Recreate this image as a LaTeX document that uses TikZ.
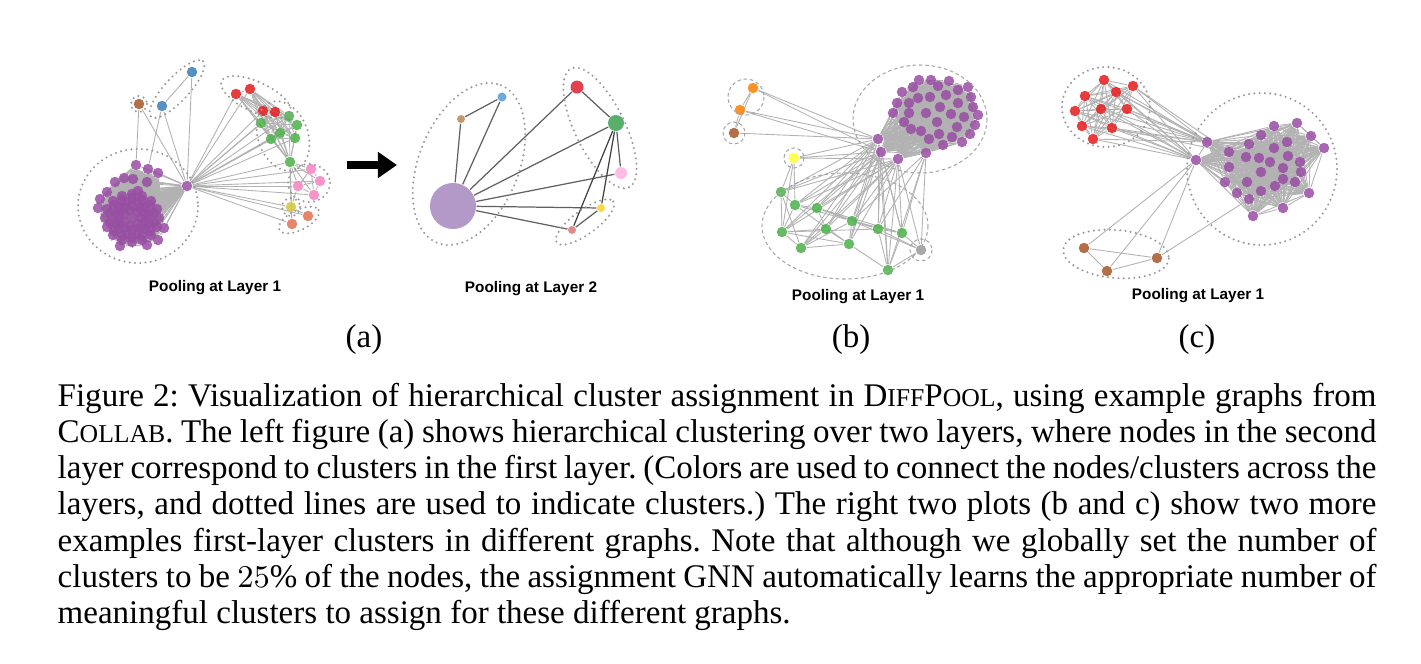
\documentclass[tikz,border=0pt]{standalone}
\usepackage{fontspec}
\setmainfont{Liberation Serif}
\setsansfont{Liberation Sans}
\usetikzlibrary{arrows.meta}
\pgfdeclarelayer{fundo}
\pgfsetlayers{fundo,main}
\frenchspacing

\definecolor{roxo}{HTML}{984EA3}
\definecolor{verm}{HTML}{E41A1C}
\definecolor{verde}{HTML}{4DAF4A}
\definecolor{azul}{HTML}{377EB8}
\definecolor{marrom}{HTML}{A65628}
\definecolor{rosa}{HTML}{F781BF}
\definecolor{oliva}{HTML}{D4C43A}
\definecolor{salmao}{HTML}{E0704F}
\definecolor{laranja}{HTML}{FF7F00}
\definecolor{amarelo}{HTML}{FFFF33}
\definecolor{cinza}{HTML}{999999}
\definecolor{lilas}{HTML}{B399C8}
\definecolor{marrom2}{HTML}{C4996E}
\definecolor{azul2}{HTML}{6FA8DC}
\definecolor{verm2}{HTML}{E0434F}
\definecolor{verde2}{HTML}{58AE6A}
\definecolor{rosa2}{HTML}{FFBDE6}
\definecolor{amarelo2}{HTML}{F6D84A}
\definecolor{salmao2}{HTML}{E08A8A}

\newcommand{\versal}[1]{{\fontsize{7.3pt}{8pt}\selectfont #1}}

\tikzset{
  vert/.style={circle,inner sep=0pt,minimum size=0.105cm,fill opacity=0.85},
  aresta/.style={draw=gray!60,line width=0.25pt},
  aresta2/.style={draw=gray!75!black,line width=0.35pt},
  grupo/.style={draw=gray!80,line width=0.65pt,dash pattern=on 0pt off 1.5pt,line cap=round},
  grupob/.style={draw=gray!70,line width=0.3pt,dash pattern=on 1pt off 0.8pt},
  rotulo/.style={font=\sffamily\bfseries\fontsize{4.36pt}{5pt}\selectfont,inner sep=0pt},
  sub/.style={font=\fontsize{9.39pt}{10.24pt}\selectfont,inner sep=0pt,anchor=base},
}

\begin{document}
\begin{tikzpicture}[x=0.01cm,y=-0.01cm]
  \useasboundingbox (0,0) rectangle (1421,663);

  %(a) camada 1
  \node[vert,fill=azul] (az1) at (192,72) {};
  \node[vert,fill=azul] (az2) at (162,106) {};
  \node[vert,fill=marrom] (mr) at (139,104) {};
  \node[vert,fill=roxo] (hubA) at (187,186) {};
  \foreach \x/\y [count=\n] in {236/94,250/89,263/111,275/112}
    \node[vert,fill=verm] (vm\n) at (\x,\y) {};
  \foreach \x/\y [count=\n] in {289/116,261/123,297/125,280/133,271/139,295/138,290/162}
    \node[vert,fill=verde] (vd\n) at (\x,\y) {};
  \foreach \x/\y [count=\n] in {311/169,320/181,298/186,314/195}
    \node[vert,fill=rosa] (rs\n) at (\x,\y) {};
  \node[vert,fill=oliva] (am) at (291,207) {};
  \node[vert,fill=salmao] (lr1) at (308,216) {};
  \node[vert,fill=salmao] (lr2) at (292,224) {};
  \foreach \x/\y [count=\n] in {136/165,148/169,158/173,115/182,124/178,133/179,147/182,107/192,138/191,100/199,98/208,
      132/218,141/218,138/224,130/226,124/222,124/214,130/210,138/212,
      149/222,145/229,137/234,127/234,119/229,115/222,115/214,119/207,127/202,137/202,145/207,149/214,
      159/218,157/227,151/235,142/240,132/242,122/240,113/235,107/227,105/218,107/209,113/201,122/196,132/194,142/196,151/201,157/209,
      147/245,158/240,164/228,120/246,
      145/222,140/228,132/230,124/228,119/222,119/214,124/208,132/206,140/208,145/214,
      154/223,150/231,142/236,132/238,122/236,114/231,110/223,110/213,114/205,122/200,132/198,142/200,150/205,154/213}
    \node[vert,fill=roxo] (pa\n) at (\x,\y) {};

  %grupos (a) camada 1
  \draw[grupo] (138,206) ellipse [x radius=60,y radius=57];
  \draw[grupo,rotate around={47:(177,89)}] (177,89) ellipse [x radius=38,y radius=12];
  \draw[grupo] (mr) circle [radius=8];
  \draw[grupo,rotate around={-25:(256,97)}] (256,97) ellipse [x radius=38,y radius=15];
  \draw[grupo,rotate around={-70:(283,136)}] (283,136) ellipse [x radius=36,y radius=25];
  \draw[grupo] (309,183) ellipse [x radius=21,y radius=19];
  \draw[grupo] (am) circle [radius=9];
  \draw[grupo,rotate around={27:(299,220)}] (299,220) ellipse [x radius=22,y radius=10];

  %(a) camada 2
  \node[circle,inner sep=0pt,minimum size=0.46cm,fill=lilas] (P2) at (453,206) {};
  \node[circle,inner sep=0pt,minimum size=0.08cm,fill=marrom2] (M2) at (461,119) {};
  \node[circle,inner sep=0pt,minimum size=0.09cm,fill=azul2] (A2) at (502,97) {};
  \node[circle,inner sep=0pt,minimum size=0.13cm,fill=verm2] (V2) at (577,87) {};
  \node[circle,inner sep=0pt,minimum size=0.16cm,fill=verde2] (G2) at (616,123) {};
  \node[circle,inner sep=0pt,minimum size=0.12cm,fill=rosa2] (R2) at (621,173) {};
  \node[circle,inner sep=0pt,minimum size=0.08cm,fill=amarelo2] (Y2) at (601,208) {};
  \node[circle,inner sep=0pt,minimum size=0.08cm,fill=salmao2] (S2) at (572,230) {};
  \draw[grupo,rotate around={68:(469,164)}] (469,164) ellipse [x radius=85,y radius=50];
  \draw[grupo,rotate around={-64:(600,128)}] (600,128) ellipse [x radius=66,y radius=25];
  \draw[grupo,rotate around={36:(585,222)}] (585,222) ellipse [x radius=35,y radius=12];

  %seta
  \coordinate (setaI) at (347,165);
  \coordinate (setaF) at (397,165);
  \draw[line width=0.08cm,-{Triangle[length=0.19cm,width=0.25cm]}] (setaI) -- (setaF);

  %(b)
  \node[vert,fill=laranja] (lj1) at (753,88) {};
  \node[vert,fill=laranja] (lj2) at (740,110) {};
  \node[vert,fill=marrom] (mb) at (734,133) {};
  \node[vert,fill=amarelo] (amb) at (794,158) {};
  \node[vert,fill=cinza] (cz) at (921,250) {};
  \foreach \x/\y [count=\n] in {878/139,881/152,898/159}
    \node[vert,fill=roxo] (sb\n) at (\x,\y) {};
  \foreach \x/\y [count=\n] in {781/192,795/205,817/208,852/221,826/229,782/232,878/229,902/233,801/248,849/244,888/270}
    \node[vert,fill=verde] (gb\n) at (\x,\y) {};
  \foreach \x/\y [count=\n] in {919/80,931/80,949/81,913/87,938/86,968/87,958/90,902/92,918/98,930/97,946/95,971/97,
      897/103,909/103,958/103,940/107,973/107,893/113,909/113,926/113,951/114,964/117,978/115,904/122,
      937/122,975/125,911/129,921/131,939/134,957/127,952/137,970/134,929/139,943/145,962/142,926/153}
    \node[vert,fill=roxo] (pb\n) at (\x,\y) {};
  \draw[grupob] (920,119) ellipse [x radius=67,y radius=54];
  \draw[grupob] (746,97) circle [radius=18];
  \draw[grupob] (mb) circle [radius=11];
  \draw[grupob] (amb) circle [radius=10];
  \draw[grupob] (cz) circle [radius=11];
  \draw[grupob] (845,226) ellipse [x radius=83,y radius=53];

  %(c)
  \foreach \x/\y [count=\n] in {1104/80,1133/86,1085/96,1116/92,1075/111,1101/109,1127/109,1082/126,1112/128,1093/139}
    \node[vert,fill=verm] (vc\n) at (\x,\y) {};
  \node[vert,fill=roxo] (hc1) at (1207,142) {};
  \node[vert,fill=roxo] (hc2) at (1196,160) {};
  \foreach \x/\y [count=\n] in {1274/126,1297/123,1261/135,1311/136,1324/148,1249/144,1274/148,1287/142,1229/152,1246/157,
      1259/158,1288/156,1270/162,1300/162,1229/167,1283/168,1261/172,1301/172,1225/182,1247/182,
      1275/186,1283/179,1295/182,1237/193,1261/191,1309/193,1249/199,1283/208,1253/216}
    \node[vert,fill=roxo] (pc\n) at (\x,\y) {};
  \node[vert,fill=marrom] (mc1) at (1084,248) {};
  \node[vert,fill=marrom] (mc2) at (1107,271) {};
  \node[vert,fill=marrom] (mc3) at (1157,258) {};
  \draw[grupo] (1106,107) ellipse [x radius=44,y radius=40];
  \draw[grupo] (1262,169) ellipse [x radius=75,y radius=76];
  \draw[grupo,rotate around={-5:(1116,254)}] (1116,254) ellipse [x radius=53,y radius=24];

  %arestas
  \begin{pgfonlayer}{fundo}
    \foreach \i in {1,...,75} {\draw[aresta] (hubA) -- (pa\i);
      \foreach \j in {\i,...,75} {\ifnum\i<\j \draw[aresta] (pa\i) -- (pa\j);\fi}}
    \foreach \a in {az1,az2,mr,vm1,vm2,vm3,vm4,vd1,vd2,vd3,vd4,vd5,vd6,vd7,rs1,rs2,rs3,rs4,am,lr1,lr2}
      \draw[aresta] (hubA) -- (\a);
    \draw[aresta] (mr) -- (pa1);
    \draw[aresta] (az2) -- (pa2);
    \draw[aresta] (az1) -- (az2);
    \foreach \i in {1,...,4} {\foreach \j in {1,...,7} \draw[aresta] (vm\i) -- (vd\j);
      \foreach \j in {\i,...,4} {\ifnum\i<\j \draw[aresta] (vm\i) -- (vm\j);\fi}}
    \foreach \i in {1,...,7} \foreach \j in {\i,...,7} {\ifnum\i<\j \draw[aresta] (vd\i) -- (vd\j);\fi}
    \foreach \i in {1,...,4} {\draw[aresta] (vd7) -- (rs\i);
      \foreach \j in {\i,...,4} {\ifnum\i<\j \draw[aresta] (rs\i) -- (rs\j);\fi}}
    \draw[aresta] (vd7) -- (am);
    \draw[aresta] (vd7) -- (lr2);
    \draw[aresta] (rs3) -- (am);
    \draw[aresta] (am) -- (lr1);
    \draw[aresta] (am) -- (lr2);
    %camada 2
    \foreach \a in {M2,A2,V2,G2,R2,Y2,S2} \draw[aresta2] (P2) -- (\a);
    \draw[aresta2] (M2) -- (A2);
    \draw[aresta2] (V2) -- (G2);
    \draw[aresta2] (G2) -- (R2);
    \draw[aresta2,draw=black!75] (G2) -- (Y2);
    \draw[aresta2,draw=black!75] (G2) -- (S2);
    \draw[aresta2] (Y2) -- (S2);
    %(b)
    \foreach \i in {1,...,36} {\foreach \s in {1,2,3} \draw[aresta] (sb\s) -- (pb\i);
      \foreach \j in {\i,...,36} {\ifnum\i<\j \draw[aresta] (pb\i) -- (pb\j);\fi}}
    \draw[aresta] (lj1) -- (lj2);
    \draw[aresta] (lj2) -- (mb);
    \draw[aresta] (lj1) -- (mb);
    \foreach \a/\b in {lj1/sb1,lj1/sb2,lj2/sb1,lj2/sb2,mb/sb1,amb/sb1,amb/sb2,amb/sb3,amb/gb1,amb/gb2,amb/gb6,
        cz/pb36,cz/sb3,cz/gb8,cz/gb7,cz/gb11,cz/gb4,gb7/pb36,gb8/pb36,gb11/pb36,gb4/pb36}
      \draw[aresta] (\a) -- (\b);
    \foreach \a/\b in {1/2,1/6,1/9,2/3,2/6,2/4,2/10,3/4,3/5,3/8,4/7,4/10,4/8,5/6,5/9,5/10,6/9,6/7,7/8,7/11,9/10,10/11,8/11,6/10,3/7,9/4}
      \draw[aresta] (gb\a) -- (gb\b);
    \foreach \i in {1,...,11} \foreach \s in {1,2,3} \draw[aresta] (gb\i) -- (sb\s);
    %(c)
    \foreach \i in {1,...,10} {\draw[aresta] (vc\i) -- (hc1); \draw[aresta] (vc\i) -- (hc2);
      \foreach \j in {\i,...,10} {\ifnum\i<\j \draw[aresta] (vc\i) -- (vc\j);\fi}}
    \foreach \a in {2,4,7,9} \draw[aresta] (vc\a) -- (pc9);
    \foreach \i in {1,...,29} {\draw[aresta] (hc1) -- (pc\i); \draw[aresta] (hc2) -- (pc\i);
      \foreach \j in {\i,...,29} {\ifnum\i<\j \draw[aresta] (pc\i) -- (pc\j);\fi}}
    \foreach \a/\b in {hc1/hc2,hc2/mc1,hc2/mc2,hc2/mc3,mc3/pc27,mc1/mc2,mc2/mc3,mc1/mc3}
      \draw[aresta] (\a) -- (\b);
  \end{pgfonlayer}

  %rotulos
  \node[rotulo] (tA1) at (215,288) {Pooling at Layer 1};
  \node[rotulo] (tA2) at (531,289) {Pooling at Layer 2};
  \node[rotulo] (tB) at (858,297) {Pooling at Layer 1};
  \node[rotulo] (tC) at (1198,296) {Pooling at Layer 1};
  \node[sub] (la) at (364,347) {(a)};
  \node[sub] (lb) at (851,347) {(b)};
  \node[sub] (lc) at (1197,347) {(c)};

  %legenda
  \node[anchor=north west,inner sep=0pt,text width=13.18cm,align=justify,
        font=\fontsize{9.39pt}{10.24pt}\selectfont] (leg) at (57,383)
    {Figure 2: Visualization of hierarchical cluster assignment in D\versal{IFF}P\versal{OOL}, using example graphs from\linebreak
     C\versal{OLLAB}. The left figure (a) shows hierarchical clustering over two layers, where nodes in the second\linebreak
     layer correspond to clusters in the first layer. (Colors are used to connect the nodes/clusters across the\linebreak
     layers, and dotted lines are used to indicate clusters.) The right two plots (b and c) show two more\linebreak
     examples first-layer clusters in different graphs. Note that although we globally set the number of\linebreak
     clusters to be $25\%$ of the nodes, the assignment GNN automatically learns the appropriate number of\linebreak
     meaningful clusters to assign for these different graphs.};
\end{tikzpicture}
\end{document}
